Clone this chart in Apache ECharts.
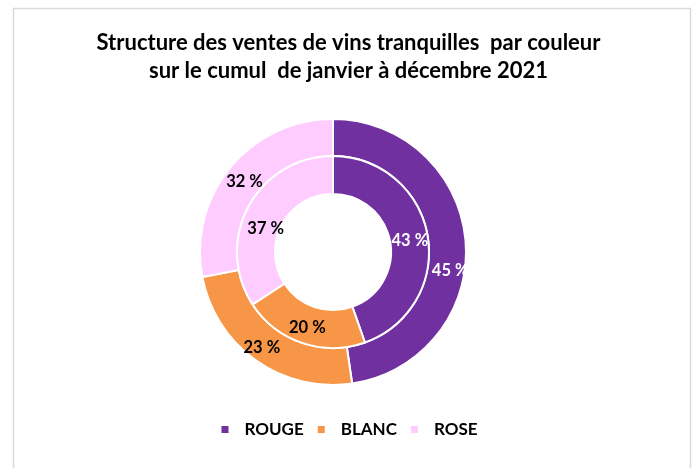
<!DOCTYPE html>
<html>
<head>
<meta charset="utf-8">
<script src="https://cdn.jsdelivr.net/npm/echarts@6/dist/echarts.min.js"></script>
<style>
  html, body { margin: 0; padding: 0; background: #fff; }
  #chart { width: 697px; height: 468px; }
</style>
</head>
<body>
<div id="chart"></div>
<script>
const titleText = "Structure des ventes de vins tranquilles  par couleur\nsur le cumul  de janvier à décembre 2021";
const couleurs = ["ROUGE", "BLANC", "ROSE"];
// parts des secteurs telles que dessinées
const outerShares = [47.7, 24.3, 28];
const innerShares = [44.6, 21.2, 34.2];
// pourcentages affichés dans les étiquettes
const outerLabels = [45, 23, 32];
const innerLabels = [43, 20, 37];
const palette = ["#7030A0", "#F79646", "#FFCCFF"];
const labelColors = ["#ffffff", "#000000", "#000000"];

const font = "Lato, 'Open Sans', sans-serif";

// petits décalages des étiquettes (comme dans l'original)
const outerNudge = [[0, 27], [-3, 0], [2, 5]];
const innerNudge = [[-2, 2], [0, 0], [3, 15]];

const toData = (vals, labels) => vals.map((v, i) => ({
  name: couleurs[i],
  value: v,
  pct: labels[i],
  itemStyle: { color: palette[i] },
  label: { color: labelColors[i] }
}));

const ringBase = {
  type: "pie",
  center: [333, 252],
  startAngle: 90,
  clockwise: true,
  avoidLabelOverlap: false,
  itemStyle: { borderColor: "#fff", borderWidth: 2 },
  label: {
    show: true,
    position: "inside",
    fontFamily: font,
    fontWeight: "bold",
    fontSize: 16.5,
    formatter: (p) => p.data.pct + " %"
  },
  labelLine: { show: false },
  emphasis: { disabled: true }
};

const chart = echarts.init(document.getElementById("chart"), null, { renderer: "canvas" });
chart.setOption({
  animation: false,
  backgroundColor: "#fff",
  title: {
    text: titleText,
    left: "center",
    top: 24,
    textStyle: {
      fontFamily: font,
      fontWeight: "bold",
      fontSize: 22,
      lineHeight: 28,
      color: "#000"
    }
  },
  legend: {
    data: couleurs,
    top: 416,
    left: "center",
    icon: "rect",
    itemWidth: 9,
    itemHeight: 9,
    itemGap: 12,
    textStyle: {
      fontFamily: font,
      fontWeight: "bold",
      fontSize: 17,
      color: "#000",
      padding: [0, 0, 0, 10]
    }
  },
  graphic: [{
    type: "rect",
    shape: { x: 13.5, y: 8.5, width: 677, height: 480 },
    style: { fill: "none", stroke: "#d9d9d9", lineWidth: 1.5 },
    silent: true
  }],
  series: [
    Object.assign({}, ringBase, {
      name: "extérieur",
      radius: [96, 133],
      data: toData(outerShares, outerLabels),
      labelLayout: (p) => ({ dx: outerNudge[p.dataIndex][0], dy: outerNudge[p.dataIndex][1] })
    }),
    Object.assign({}, ringBase, {
      name: "intérieur",
      radius: [58, 96],
      data: toData(innerShares, innerLabels),
      labelLayout: (p) => ({ dx: innerNudge[p.dataIndex][0], dy: innerNudge[p.dataIndex][1] })
    })
  ]
});
</script>
</body>
</html>
